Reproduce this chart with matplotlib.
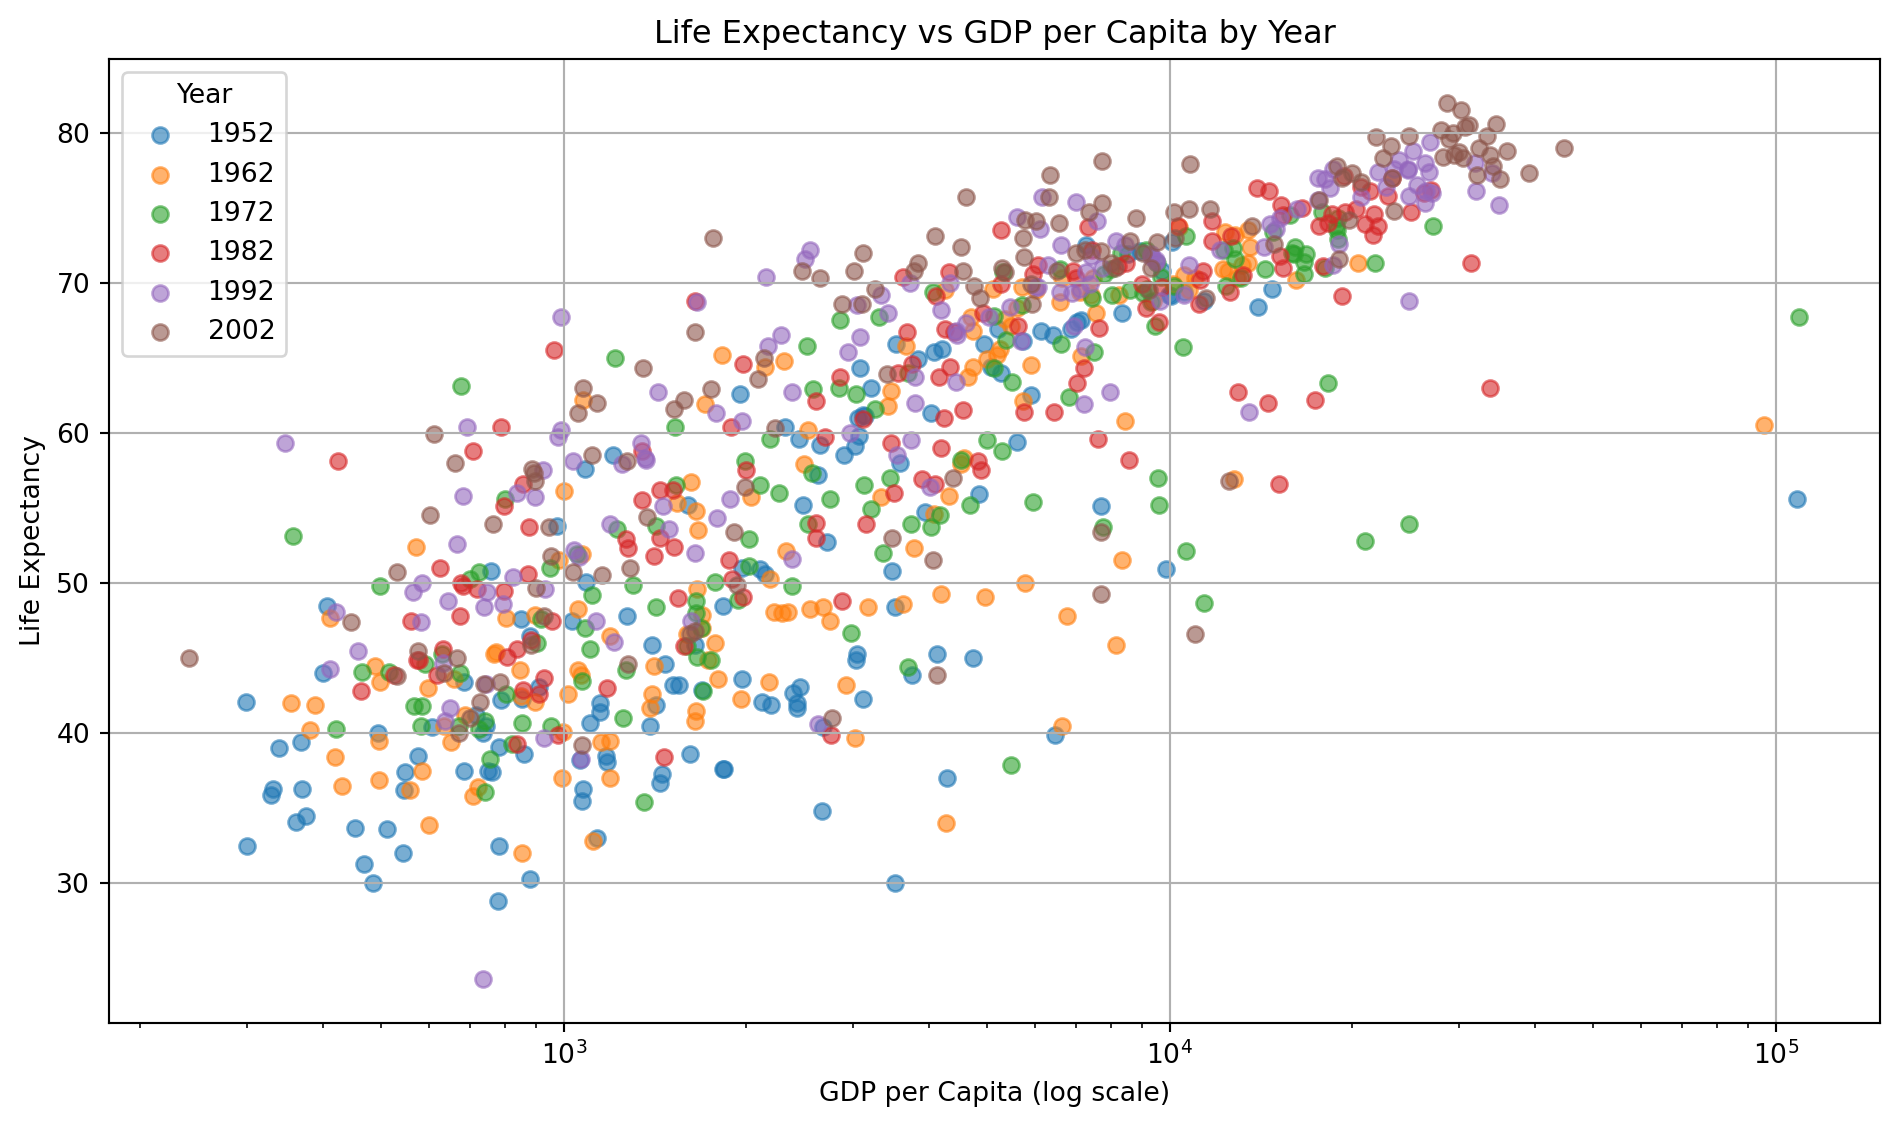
import matplotlib
matplotlib.use("Agg")
import matplotlib.pyplot as plt

years = [1952, 1962, 1972, 1982, 1992, 2002]

gdp_1952 = [779.4, 1601.1, 2449.0, 3520.6, 5911.3, 10039.6, 6137.1, 9867.1, 684.2, 8343.1,
            1062.8, 2677.3, 973.5, 851.2, 2108.9, 2444.3, 543.3, 339.3, 368.5, 1172.7,
            11367.2, 1071.3, 1178.7, 3940.0, 400.4, 2144.1, 1103.0, 780.5, 2125.6, 2627.0,
            1388.6, 3119.2, 5586.5, 6876.1, 9692.4, 2669.5, 1397.7, 3522.1, 1418.8, 3048.3,
            375.6, 328.9, 362.1, 6424.5, 7029.8, 4293.5, 485.2, 7144.1, 911.3, 3530.7,
            2428.2, 510.2, 299.9, 1840.4, 2194.9, 3054.4, 5263.7, 7267.7, 546.6, 749.7,
            3035.3, 4129.8, 5210.3, 4086.5, 4931.4, 2898.5, 3217.0, 1546.9, 853.5, 1088.3,
            1030.6, 108382.4, 4834.8, 298.8, 575.6, 2387.5, 1443.0, 369.2, 1831.1, 452.3,
            743.1, 1968.0, 3478.1, 786.6, 2647.6, 1688.2, 468.5, 331.0, 2423.8, 545.9,
            8941.6, 10556.6, 3112.4, 761.9, 1077.3, 10095.4, 1828.2, 684.6, 2480.4, 1952.3,
            3758.5, 1272.9, 4029.3, 3068.3, 3082.0, 2718.9, 3144.6, 493.3, 879.6, 6459.6,
            1450.4, 3581.5, 879.8, 2315.1, 5074.7, 4215.0, 1135.7, 4725.3, 3834.0, 1083.5,
            1616.0, 1148.4, 8527.8, 14734.2, 1643.5, 1206.9, 716.7, 757.8, 859.8, 3023.3,
            1468.5, 1969.1, 734.8, 9979.5, 13990.5, 5716.8, 7689.8, 605.1, 1515.6, 781.7,
            1147.4, 406.9]
le_1952 = [28.8, 55.2, 43.1, 30.0, 62.5, 69.1, 66.8, 50.9, 37.5, 68.0,
           38.2, 40.4, 53.8, 47.6, 50.9, 59.6, 32.0, 39.0, 39.4, 38.5,
           68.8, 35.5, 38.1, 54.7, 44.0, 50.6, 40.7, 39.1, 42.1, 57.2,
           40.5, 61.2, 59.4, 66.9, 70.8, 34.8, 45.9, 48.4, 41.9, 45.3,
           34.5, 35.9, 34.1, 66.5, 67.4, 37.0, 30.0, 67.5, 43.1, 65.9,
           42.0, 33.6, 32.5, 37.6, 41.9, 61.0, 64.0, 72.5, 37.4, 37.5,
           44.9, 45.3, 66.9, 65.4, 65.9, 58.5, 63.0, 43.2, 42.3, 50.1,
           47.5, 55.6, 55.9, 42.1, 38.5, 42.7, 36.7, 36.3, 48.5, 33.7,
           40.5, 51.0, 50.8, 42.2, 59.2, 42.9, 31.3, 36.3, 41.7, 36.2,
           72.1, 69.4, 42.3, 37.4, 36.3, 72.7, 37.6, 43.4, 55.2, 62.6,
           43.9, 47.8, 61.3, 59.8, 64.3, 52.7, 61.1, 40.0, 46.5, 39.9,
           37.3, 58.0, 30.3, 60.4, 64.4, 65.6, 33.0, 45.0, 64.9, 57.6,
           38.6, 41.4, 71.9, 69.6, 45.9, 58.5, 41.2, 50.8, 38.6, 59.1,
           44.6, 43.6, 40.0, 69.2, 68.4, 66.1, 55.1, 40.4, 43.2, 32.5,
           42.0, 48.5]

gdp_1962 = [853.1, 2312.9, 2550.8, 4269.3, 7133.2, 12217.2, 10750.7, 12753.3, 686.3, 10991.2,
            1014.5, 2181.0, 1709.7, 983.7, 3336.6, 4254.3, 722.5, 355.2, 496.9, 1399.6,
            13462.5, 1190.8, 1389.8, 4519.1, 487.7, 2492.4, 1406.6, 896.3, 2677.9, 3460.9,
            1728.9, 5477.9, 5180.8, 10136.9, 13583.3, 3021.0, 1662.1, 4086.1, 1693.3, 3776.8,
            582.8, 381.0, 419.5, 9371.8, 10560.5, 6631.6, 599.7, 12902.5, 1190.0, 6017.2,
            2750.4, 708.8, 430.1, 1796.6, 2291.2, 4692.6, 7550.4, 10350.2, 658.3, 849.3,
            4187.3, 8341.7, 6631.5, 7105.6, 8243.6, 5246.1, 6576.6, 2348.0, 897.0, 1621.7,
            1536.3, 95458.1, 5714.6, 411.8, 634.2, 6757.0, 1643.4, 496.2, 2036.9, 496.2,
            1055.9, 2529.1, 4581.6, 1056.4, 4649.6, 1693.0, 556.7, 388.0, 3173.2, 652.4,
            12790.8, 13175.7, 3634.4, 997.8, 1150.9, 13450.4, 2924.6, 803.3, 3431.6, 2148.0,
            4957.0, 1649.6, 5338.8, 4728.0, 5108.3, 4319.8, 4735.0, 597.5, 1071.6, 8157.6,
            1655.0, 5907.9, 1117.0, 3674.7, 7481.1, 7402.3, 1193.1, 5768.7, 5693.8, 1074.5,
            1959.6, 1597.7, 12329.4, 20431.1, 2193.0, 1822.9, 848.2, 1002.2, 1067.5, 4997.5,
            1660.3, 2322.9, 767.3, 12477.2, 16173.1, 5603.4, 8423.0, 772.0, 2220.5, 991.7,
            1777.1, 569.8]
le_1962 = [32.0, 64.8, 48.3, 34.0, 65.1, 70.9, 69.5, 56.9, 41.2, 70.3,
           42.6, 43.4, 61.9, 51.5, 55.7, 69.5, 36.4, 42.0, 43.4, 42.6,
           71.3, 39.5, 41.7, 57.9, 44.5, 57.9, 44.5, 42.1, 48.4, 62.8,
           44.9, 67.1, 65.2, 69.9, 72.4, 39.7, 53.5, 54.6, 47.0, 52.3,
           37.5, 40.2, 38.4, 68.8, 70.5, 40.5, 33.9, 70.3, 46.5, 69.5,
           47.5, 35.8, 36.5, 43.6, 48.0, 67.7, 68.0, 73.7, 43.6, 42.5,
           49.3, 51.5, 70.3, 69.4, 69.2, 65.6, 68.7, 48.1, 47.9, 56.7,
           55.3, 60.5, 62.1, 47.7, 40.5, 47.8, 40.8, 39.5, 55.7, 36.9,
           44.2, 60.2, 58.3, 48.3, 63.7, 47.9, 36.2, 41.9, 48.4, 39.4,
           73.2, 71.2, 48.6, 40.1, 39.4, 73.5, 43.2, 47.7, 61.8, 64.4,
           49.1, 54.8, 67.6, 64.4, 69.6, 55.8, 66.8, 43.0, 51.9, 45.9,
           41.5, 64.5, 32.8, 65.8, 70.3, 69.2, 37.0, 50.0, 69.7, 62.2,
           42.3, 46.6, 73.4, 71.3, 50.3, 65.2, 44.2, 56.1, 43.9, 64.9,
           49.6, 52.1, 45.3, 70.8, 70.2, 68.3, 60.8, 45.4, 48.1, 37.0,
           46.0, 52.4]

gdp_1972 = [740.0, 3313.4, 4182.7, 5473.3, 9443.0, 16788.6, 16661.6, 18268.7, 630.2, 16672.1,
            1085.8, 2980.3, 2860.2, 2263.6, 4985.7, 6597.5, 854.7, 464.1, 421.6, 1684.1,
            18970.6, 1070.0, 1104.1, 5494.0, 676.9, 3264.7, 1937.6, 904.9, 3213.2, 5118.1,
            2378.2, 9164.1, 5305.4, 13108.5, 18866.2, 3694.2, 2189.9, 5281.0, 2024.0, 4520.2,
            672.4, 514.3, 566.2, 14358.9, 16107.2, 11401.9, 756.1, 18016.2, 1302.9, 12724.8,
            4031.4, 741.7, 820.2, 1654.5, 2529.8, 8315.9, 10168.7, 15798.1, 724.0, 1111.1,
            9613.8, 9576.0, 9530.8, 12786.9, 12269.3, 7433.9, 14778.8, 2110.9, 1222.4, 3701.6,
            3030.9, 109347.9, 7486.4, 496.6, 803.0, 21011.5, 1748.6, 584.6, 2849.1, 581.4,
            1421.1, 2575.5, 6809.4, 1421.7, 7778.4, 2022.1, 724.9, 357.0, 3746.1, 674.8,
            18794.7, 16046.0, 4688.6, 954.2, 1698.4, 18965.1, 10618.0, 1049.9, 5364.2, 2523.3,
            5937.8, 1989.4, 8006.5, 9022.2, 9123.0, 5118.1, 8011.4, 590.6, 1533.0, 24837.4,
            1597.7, 9325.1, 1353.8, 8597.8, 9674.2, 12383.5, 1254.6, 7766.0, 10638.8, 1213.4,
            1659.7, 3364.8, 17832.0, 27195.1, 2571.4, 4062.5, 916.0, 1524.4, 1649.7, 6619.6,
            2753.3, 3450.7, 950.7, 15895.1, 21806.0, 5703.4, 10505.3, 699.5, 3133.4, 1265.0,
            1773.5, 799.4]
le_1972 = [36.1, 67.7, 54.5, 37.9, 67.1, 71.9, 70.6, 63.3, 45.3, 71.4,
           47.0, 46.7, 67.5, 56.0, 59.5, 70.9, 40.7, 44.1, 40.3, 47.0,
           72.9, 43.5, 45.6, 63.4, 63.1, 61.6, 48.9, 46.0, 54.9, 67.8,
           49.8, 69.6, 70.7, 70.3, 73.5, 44.4, 59.6, 58.8, 51.1, 58.2,
           40.5, 44.1, 41.8, 70.9, 72.4, 48.7, 38.3, 71.0, 49.9, 72.3,
           53.7, 40.8, 39.3, 48.0, 53.9, 72.0, 69.8, 74.5, 50.7, 49.2,
           55.2, 57.0, 71.3, 71.6, 72.2, 69.0, 73.4, 56.5, 53.6, 64.0,
           62.6, 67.7, 65.4, 49.8, 42.6, 52.8, 44.9, 41.8, 63.0, 40.5,
           48.4, 62.9, 62.4, 53.8, 70.6, 52.9, 40.3, 53.1, 53.9, 44.0,
           73.8, 71.9, 55.2, 40.5, 42.8, 74.3, 52.1, 51.9, 66.2, 65.8,
           55.4, 58.1, 70.9, 69.3, 72.2, 64.3, 69.2, 44.6, 56.5, 53.9,
           45.8, 68.7, 35.4, 69.5, 70.4, 69.8, 41.0, 53.7, 73.1, 65.0,
           45.1, 52.0, 74.7, 73.8, 57.3, 69.4, 47.6, 60.4, 48.8, 65.9,
           55.6, 57.0, 51.0, 72.0, 71.3, 68.5, 65.7, 50.3, 56.5, 44.2,
           50.1, 55.6]

gdp_1982 = [978.0, 3630.9, 5745.2, 2757.0, 8997.9, 19477.0, 21597.1, 19211.1, 677.0, 20979.8,
            1277.9, 3156.5, 4314.1, 4551.1, 7030.8, 8224.2, 807.2, 560.0, 624.5, 2602.7,
            22898.8, 956.8, 797.3, 5956.0, 962.4, 4397.6, 1267.1, 673.7, 4879.5, 5262.7,
            2602.7, 13221.8, 7316.9, 15377.2, 21688.0, 2879.5, 2861.1, 7213.8, 3503.7, 4098.3,
            927.8, 524.9, 577.9, 18533.2, 20293.9, 15113.4, 835.8, 22031.5, 876.0, 15268.4,
            4820.5, 857.3, 838.1, 1874.3, 3121.8, 14560.5, 12546.0, 23269.6, 855.7, 1516.9,
            7608.3, 14517.9, 12618.3, 15367.0, 16537.5, 6068.1, 19384.1, 4161.4, 1348.2, 4106.5,
            5622.9, 31354.0, 7640.5, 797.3, 572.2, 17364.3, 1544.2, 632.8, 4920.4, 618.0,
            1443.5, 3688.0, 9611.1, 2000.6, 11732.5, 2702.6, 462.2, 424.0, 4191.1, 718.4,
            21399.5, 17632.4, 3470.3, 909.7, 1577.0, 26298.6, 12954.8, 1443.4, 7009.6, 4258.5,
            6434.5, 2603.3, 8451.5, 11753.8, 10331.0, 5267.2, 9696.3, 881.6, 1890.2, 33693.2,
            1518.5, 11222.6, 1465.0, 15169.2, 11348.5, 17866.7, 1176.8, 8568.3, 13926.2, 1648.1,
            1895.5, 3895.4, 20667.4, 26982.3, 3761.4, 7426.4, 874.2, 1977.6, 1344.6, 9119.5,
            3560.2, 4241.4, 682.3, 18232.4, 25009.6, 6920.2, 11152.4, 707.2, 4336.0, 1977.6,
            1408.7, 788.9]
le_1982 = [39.9, 70.4, 61.4, 39.9, 69.9, 74.7, 73.2, 69.1, 50.0, 73.9,
           52.3, 53.9, 70.7, 61.5, 63.3, 71.1, 45.1, 47.5, 51.0, 53.0,
           75.8, 47.5, 49.5, 70.6, 65.5, 66.7, 52.9, 47.8, 57.5, 73.5,
           54.0, 70.5, 73.7, 71.0, 74.6, 48.8, 63.7, 64.3, 56.0, 56.6,
           43.7, 43.9, 44.9, 74.6, 74.9, 56.6, 45.6, 73.8, 53.7, 75.2,
           58.1, 42.9, 39.3, 51.5, 60.9, 76.1, 69.4, 77.0, 56.6, 56.2,
           59.6, 62.0, 73.1, 74.5, 75.0, 71.2, 77.1, 63.7, 58.8, 69.1,
           67.1, 71.3, 67.0, 55.1, 44.9, 62.2, 49.0, 45.6, 68.0, 43.9,
           53.0, 66.7, 67.4, 57.5, 74.1, 59.7, 42.8, 58.1, 59.0, 49.6,
           76.1, 73.8, 59.3, 42.6, 45.8, 76.0, 62.7, 56.2, 70.3, 66.9,
           61.4, 62.1, 71.3, 72.8, 73.8, 69.9, 69.7, 46.2, 60.4, 63.0,
           52.4, 70.2, 38.4, 71.8, 70.8, 71.1, 43.0, 58.2, 76.3, 68.8,
           50.3, 56.9, 76.4, 76.2, 64.6, 72.2, 50.6, 64.6, 55.5, 68.3,
           64.0, 61.0, 49.8, 74.0, 74.7, 70.8, 68.6, 58.8, 64.4, 49.1,
           51.8, 60.4]

gdp_1992 = [649.3, 2497.4, 5023.2, 2627.8, 9308.4, 23424.8, 27042.0, 19035.6, 837.8, 25575.6,
            1191.2, 2961.7, 2546.8, 7954.1, 6950.3, 6302.6, 931.8, 631.7, 682.3, 1793.2,
            26342.9, 747.9, 1058.1, 7596.1, 1655.8, 5444.6, 1246.9, 457.7, 4016.2, 6160.4,
            1648.1, 8447.8, 5592.8, 14297.0, 26406.7, 2377.2, 3044.2, 7103.7, 3794.8, 4444.2,
            1132.1, 582.9, 421.4, 20647.2, 24703.8, 13522.2, 665.6, 26505.3, 925.1, 17541.5,
            4439.5, 794.3, 745.5, 1456.3, 3081.7, 24757.6, 10535.6, 25144.4, 989.0, 2383.1,
            7235.7, 3745.6, 17558.8, 18051.5, 22013.6, 7404.9, 26824.9, 3431.6, 1341.9, 3726.1,
            12104.3, 34932.9, 6890.8, 977.5, 636.6, 9640.1, 1040.7, 563.2, 7277.9, 739.0,
            1361.4, 6058.3, 9472.4, 1785.4, 7003.3, 2948.0, 410.9, 347.0, 3804.5, 897.7,
            26790.9, 18363.3, 2170.2, 581.2, 1619.8, 33965.7, 18616.7, 1971.8, 6618.7, 4196.4,
            4446.4, 2279.3, 7738.9, 16207.3, 14641.6, 6101.3, 6598.4, 737.1, 1428.8, 24841.6,
            1367.9, 9325.1, 1068.7, 24769.9, 9498.5, 14965.0, 927.0, 7225.1, 18603.1, 2153.7,
            1492.2, 3553.0, 23880.0, 31871.5, 3340.5, 15215.7, 825.7, 4616.9, 1034.3, 7371.0,
            4332.7, 5678.3, 644.2, 22705.1, 32003.9, 8137.0, 10733.9, 989.0, 6017.7, 1879.5,
            1210.9, 693.4]
le_1992 = [41.7, 71.6, 67.7, 40.6, 71.9, 77.6, 76.0, 72.6, 56.0, 76.5,
           53.9, 60.0, 72.2, 62.7, 67.1, 71.2, 49.6, 44.7, 55.8, 54.3,
           78.0, 49.4, 51.7, 74.1, 68.7, 68.4, 57.9, 45.5, 56.4, 75.7,
           52.0, 72.5, 74.4, 72.4, 75.3, 51.6, 68.5, 69.6, 63.7, 66.8,
           47.5, 50.0, 48.1, 75.7, 77.5, 61.4, 52.6, 76.1, 57.5, 77.0,
           63.4, 48.6, 43.3, 55.1, 66.4, 77.6, 69.2, 78.8, 60.2, 62.7,
           65.7, 59.5, 75.5, 76.9, 77.4, 71.8, 79.4, 68.0, 59.3, 70.0,
           72.2, 75.2, 69.3, 59.7, 40.8, 68.8, 52.2, 49.4, 70.7, 48.4,
           58.3, 69.7, 71.5, 61.3, 75.4, 65.4, 44.3, 59.3, 62.0, 55.7,
           77.4, 76.3, 65.8, 47.4, 47.5, 77.3, 71.2, 60.8, 72.5, 68.2,
           66.5, 66.5, 71.0, 74.9, 73.9, 73.6, 69.4, 23.6, 62.7, 68.8,
           58.2, 71.7, 38.3, 75.8, 71.4, 73.6, 39.7, 61.9, 77.6, 70.4,
           53.6, 58.5, 78.2, 78.0, 69.2, 74.3, 50.4, 67.3, 58.1, 69.9,
           70.0, 66.1, 48.8, 76.4, 76.1, 72.8, 71.2, 67.7, 69.7, 55.6,
           46.1, 60.4]

gdp_2002 = [726.7, 4604.2, 5288.0, 2773.3, 8797.6, 30687.8, 32417.6, 23403.6, 1136.4, 30485.9,
            1372.9, 3413.3, 6019.0, 11003.6, 8131.2, 7696.8, 1037.6, 446.4, 896.2, 1934.0,
            33329.0, 738.7, 1156.2, 10778.8, 3119.3, 5755.3, 1075.8, 241.2, 3484.1, 7723.4,
            1648.8, 11628.4, 6340.6, 17596.2, 32166.5, 1908.3, 4563.8, 5773.0, 4754.6, 5351.6,
            7703.5, 765.4, 530.1, 28204.6, 28926.0, 12521.7, 660.6, 30035.8, 1112.0, 22514.3,
            4858.3, 945.6, 575.7, 1270.4, 3099.7, 30209.0, 14843.9, 31163.2, 1746.8, 2873.9,
            9240.8, 4391.0, 34077.0, 21905.6, 27968.1, 6994.8, 28604.6, 3844.9, 1287.5, 1646.8,
            19234.0, 35110.1, 9313.9, 1275.2, 531.5, 9534.7, 894.6, 665.4, 10207.0, 951.4,
            1579.0, 9022.2, 10742.4, 2140.7, 6557.2, 3258.5, 633.6, 611.0, 4072.3, 1057.2,
            33724.8, 23189.8, 2474.5, 601.1, 1615.3, 44684.0, 19774.8, 2092.7, 7356.0, 3783.7,
            5909.0, 2650.9, 10159.6, 19970.9, 18855.6, 6316.2, 7991.7, 785.7, 1353.1, 19014.5,
            1519.6, 7236.1, 699.5, 36023.1, 13638.8, 20660.0, 882.1, 7710.9, 24835.5, 3015.4,
            1993.4, 4128.1, 29341.6, 34481.0, 4090.9, 23235.4, 899.1, 5913.2, 886.2, 11460.6,
            5722.9, 6508.1, 927.7, 29479.0, 39097.1, 7727.0, 8605.0, 1764.5, 4515.5, 2234.8,
            1071.6, 672.0]
le_2002 = [42.1, 75.7, 71.0, 41.0, 74.3, 80.4, 79.0, 74.8, 62.0, 78.3,
           54.4, 63.9, 74.1, 46.6, 71.0, 72.1, 50.7, 47.4, 56.8, 49.9,
           79.8, 43.3, 50.5, 77.9, 72.0, 71.7, 63.0, 45.0, 53.0, 78.1,
           46.8, 74.9, 77.2, 75.5, 77.2, 53.4, 70.8, 74.2, 69.8, 70.7,
           49.3, 53.9, 50.7, 78.4, 79.6, 56.8, 58.0, 78.7, 58.5, 78.3,
           69.0, 53.7, 45.5, 58.1, 68.6, 81.5, 72.6, 80.5, 62.9, 68.6,
           69.5, 57.0, 77.8, 79.7, 80.2, 72.0, 82.0, 71.3, 51.0, 66.7,
           77.0, 76.9, 71.0, 44.6, 43.8, 72.7, 57.3, 45.0, 73.0, 51.8,
           62.2, 72.0, 74.9, 65.0, 74.0, 69.6, 44.0, 59.9, 51.5, 61.3,
           78.5, 79.1, 70.8, 54.5, 46.6, 79.0, 74.2, 63.6, 74.7, 70.8,
           69.9, 70.3, 74.7, 77.3, 77.8, 75.7, 71.3, 43.4, 64.3, 71.6,
           61.6, 72.2, 41.0, 78.8, 73.8, 76.7, 45.9, 53.4, 79.8, 70.8,
           56.4, 43.9, 80.0, 80.6, 73.1, 77.0, 49.7, 68.6, 57.6, 69.0,
           73.0, 70.8, 47.8, 78.5, 77.3, 75.3, 72.8, 73.0, 72.4, 60.3,
           39.2, 40.0]

gdp_by_year = [gdp_1952, gdp_1962, gdp_1972, gdp_1982, gdp_1992, gdp_2002]
le_by_year = [le_1952, le_1962, le_1972, le_1982, le_1992, le_2002]

DPI = 192
fig, ax = plt.subplots(figsize=(1898 / DPI, 1126 / DPI), dpi=DPI)
for yr, g, l in zip(years, gdp_by_year, le_by_year):
    ax.scatter(g, l, alpha=0.6, label=str(yr))
ax.set_xscale('log')
ax.set_title('Life Expectancy vs GDP per Capita by Year')
ax.set_xlabel('GDP per Capita (log scale)')
ax.set_ylabel('Life Expectancy')
ax.legend(title='Year', loc='upper left')
ax.grid(True)
fig.subplots_adjust(left=0.0574, right=0.9905, top=0.9476, bottom=0.0915)
fig.savefig('out.png', dpi=DPI)
